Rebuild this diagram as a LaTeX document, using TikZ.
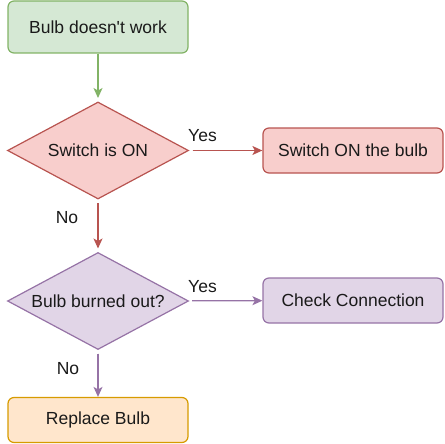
\documentclass[tikz,border=0pt]{standalone}
\usepackage{fontspec}
\setmainfont{Liberation Sans}[Ligatures=TeXOff]
\usetikzlibrary{shapes.geometric,arrows.meta}
\definecolor{gfill}{HTML}{D5E8D4}\definecolor{gdraw}{HTML}{82B366}
\definecolor{rfill}{HTML}{F8CECC}\definecolor{rdraw}{HTML}{B85450}
\definecolor{pfill}{HTML}{E1D5E7}\definecolor{pdraw}{HTML}{9673A6}
\definecolor{ofill}{HTML}{FFE6CC}\definecolor{odraw}{HTML}{D79B00}
\definecolor{txt}{HTML}{1A1A1A}
\tikzset{
  box/.style={rectangle,rounded corners=6pt,minimum width=180pt,minimum height=#1,inner sep=0pt,line width=1.2pt,text=txt,font=\fontsize{17.5}{20}\selectfont},
  box/.default=45pt,
  dec/.style={diamond,aspect=1.85,minimum width=183pt,minimum height=99pt,inner sep=0pt,outer sep=3pt,line width=1.2pt,text=txt,font=\fontsize{17.5}{20}\selectfont},
  conn/.style={line width=1.2pt,-{Stealth[length=10pt,width=9pt,inset=2.5pt]}},
  lbl/.style={text=txt,font=\fontsize{17.5}{20}\selectfont,inner sep=0pt}
}
\begin{document}
\begin{tikzpicture}[x=1pt,y=-1pt]
\useasboundingbox (0,0) rectangle (444,444);
\node[box=52pt,fill=gfill,draw=gdraw] (start) at (98,27) {Bulb doesn't work};
\node[dec,fill=rfill,draw=rdraw] (d1) at (98,150.5) {Switch is ON};
\node[box,fill=rfill,draw=rdraw] (b2) at (353,150.5) {Switch ON the bulb};
\node[dec,fill=pfill,draw=pdraw] (d2) at (98,301) {Bulb burned out?};
\node[box,fill=pfill,draw=pdraw] (b3) at (353,300.5) {Check Connection};
\node[box,fill=ofill,draw=odraw] (b4) at (98,420) {Replace Bulb};
\draw[conn,draw=gdraw,fill=gdraw] (start) -- (d1);
\draw[conn,draw=rdraw,fill=rdraw] (d1) -- (b2);
\draw[conn,draw=rdraw,fill=rdraw] (d1) -- (d2);
\draw[conn,draw=pdraw,fill=pdraw] (d2) -- (b3);
\draw[conn,draw=pdraw,fill=pdraw] (d2) -- (b4);
\node[lbl] (y1) at (202.5,136) {Yes};
\node[lbl] (n1) at (67,218) {No};
\node[lbl] (y2) at (202.5,286.5) {Yes};
\node[lbl] (n2) at (68,369) {No};
\end{tikzpicture}
\end{document}
